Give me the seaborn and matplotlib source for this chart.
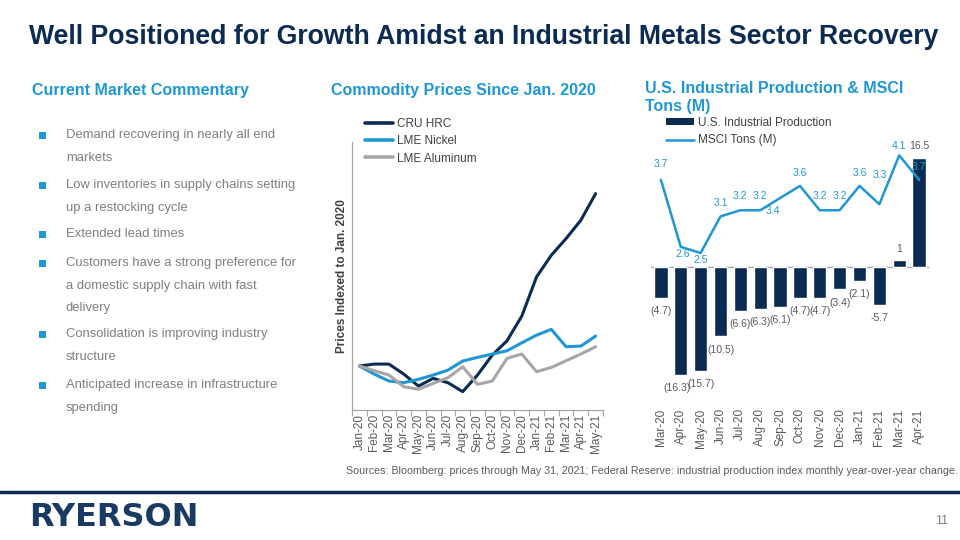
import numpy as np
import pandas as pd
import matplotlib
matplotlib.use("Agg")
import matplotlib.pyplot as plt
import seaborn as sns
from matplotlib.patches import Rectangle, Patch
from matplotlib.lines import Line2D

# ---------------- data ----------------
months_left = ["Jan-20", "Feb-20", "Mar-20", "Apr-20", "May-20", "Jun-20", "Jul-20",
               "Aug-20", "Sep-20", "Oct-20", "Nov-20", "Dec-20", "Jan-21", "Feb-21",
               "Mar-21", "Apr-21", "May-21"]
cru_hrc = [100.0, 102.0, 102.0, 91.9, 79.7, 87.5, 83.1, 74.0, 90.9, 111.1, 125.7,
           150.7, 190.5, 212.5, 229.4, 248.0, 275.0]
lme_nickel = [100.0, 91.9, 84.8, 83.1, 86.5, 90.9, 95.9, 105.1, 108.8, 112.2, 115.5,
              123.6, 131.4, 137.2, 119.6, 120.3, 130.4]
lme_aluminum = [100.0, 95.3, 90.9, 79.1, 76.4, 82.4, 88.2, 99.3, 81.4, 84.8, 107.8,
                112.2, 94.3, 98.6, 105.4, 112.2, 119.6]
series_names = ["CRU HRC", "LME Nickel", "LME Aluminum"]

months_right = ["Mar-20", "Apr-20", "May-20", "Jun-20", "Jul-20", "Aug-20", "Sep-20",
                "Oct-20", "Nov-20", "Dec-20", "Jan-21", "Feb-21", "Mar-21", "Apr-21"]
ind_prod = [-4.7, -16.3, -15.7, -10.5, -6.6, -6.3, -6.1, -4.7, -4.7, -3.4, -2.1, -5.7, 1.0, 16.5]
ind_prod_labels = ["(4.7)", "(16.3)", "(15.7)", "(10.5)", "(6.6)", "(6.3)", "(6.1)",
                   "(4.7)", "(4.7)", "(3.4)", "(2.1)", "-5.7", "1", "16.5"]
msci_tons = [3.7, 2.6, 2.5, 3.1, 3.2, 3.2, 3.4, 3.6, 3.2, 3.2, 3.6, 3.3, 4.1, 3.7]

bullets = [
    ["Demand recovering in nearly all end", "markets"],
    ["Low inventories in supply chains setting", "up a restocking cycle"],
    ["Extended lead times"],
    ["Customers have a strong preference for", "a domestic supply chain with fast", "delivery"],
    ["Consolidation is improving industry", "structure"],
    ["Anticipated increase in infrastructure", "spending"],
]

# ---------------- styles ----------------
NAVY = "#0C2B52"
BLUE = "#1E97D4"
GRAY = "#A6A6A6"
TXT = "#595959"
BTXT = "#7F7F7F"

sns.set_style("white")
plt.rcParams["font.family"] = ["Liberation Sans", "DejaVu Sans"]

W, H = 960, 540
fig = plt.figure(figsize=(9.6, 5.4), dpi=100)


def fx(px):
    return px / W


def fy(py):
    return 1 - py / H


# ---------------- header text ----------------
fig.text(fx(29), fy(37), "Well Positioned for Growth Amidst an Industrial Metals Sector Recovery",
         fontsize=19.2, fontweight="bold", color=NAVY, va="center", ha="left")
fig.text(fx(32), fy(91), "Current Market Commentary", fontsize=11.5, fontweight="bold",
         color=BLUE, va="center")
fig.text(fx(331), fy(91), "Commodity Prices Since Jan. 2020", fontsize=11.5, fontweight="bold",
         color=BLUE, va="center")
fig.text(fx(645), fy(89), "U.S. Industrial Production & MSCI", fontsize=11.5, fontweight="bold",
         color=BLUE, va="center")
fig.text(fx(645), fy(107), "Tons (M)", fontsize=11.5, fontweight="bold", color=BLUE, va="center")

# bullets
bullet_y = [135, 185, 234, 263, 334, 385]
for lines, y0 in zip(bullets, bullet_y):
    fig.add_artist(Rectangle((fx(39), fy(y0 + 3.5)), 7 / W, 7 / H, transform=fig.transFigure,
                             facecolor=BLUE, edgecolor="none"))
    for j, line in enumerate(lines):
        fig.text(fx(66), fy(y0 + j * 22.5), line, fontsize=9.4, color=BTXT, va="center")

# ---------------- left chart ----------------
axL = fig.add_axes([fx(352), fy(410), (603 - 352) / W, (410 - 142) / H])
x_idx = np.arange(len(months_left))
dfL = pd.DataFrame({
    "x": np.concatenate([x_idx] * 3),
    "value": cru_hrc + lme_nickel + lme_aluminum,
    "series": np.repeat(series_names, len(months_left)),
})
sns.lineplot(data=dfL, x="x", y="value", hue="series", hue_order=series_names,
             palette=[NAVY, BLUE, GRAY], linewidth=2.2, ax=axL, legend=False)
axL.set_xlim(-0.5, len(months_left) - 0.5)
axL.set_ylim(55.4, 327.4)
axL.set_yticks([])
axL.set_xticks(x_idx)
axL.set_xticklabels(months_left, rotation=90, fontsize=8.5, color=TXT)
axL.set_xticks(np.arange(-0.5, len(months_left)), minor=True)
axL.tick_params(axis="x", which="major", length=0, pad=3)
axL.tick_params(axis="x", which="minor", length=4, width=0.8, color=GRAY, direction="out",
                bottom=True)
axL.set_xlabel("")
axL.set_ylabel("Prices Indexed to Jan. 2020", fontsize=8.5, fontweight="bold", color="#404040")
axL.yaxis.set_label_coords(-0.015, 0.5)
for s in ["top", "right"]:
    axL.spines[s].set_visible(False)
for s in ["left", "bottom"]:
    axL.spines[s].set_color(GRAY)
    axL.spines[s].set_linewidth(0.9)

hL = [Line2D([], [], color=c, lw=2.6) for c in [NAVY, BLUE, GRAY]]
fig.legend(hL, series_names, loc="upper left", bbox_to_anchor=(fx(365), fy(118)),
           frameon=False, fontsize=8.5, handlelength=2.4, handletextpad=0.3,
           labelspacing=0.45, borderpad=0, borderaxespad=0, labelcolor="#404040")

# ---------------- right chart ----------------
axR = fig.add_axes([fx(651), fy(400), (929 - 651) / W, (400 - 145) / H])
dfR = pd.DataFrame({"month": months_right, "ip": ind_prod})
sns.barplot(data=dfR, x="month", y="ip", color=NAVY, saturation=1, width=0.67, ax=axR)
axR.set_ylim(-20.15, 18.5)
axR.set_xlim(-0.5, len(months_right) - 0.5)
axR.axhline(0, color=GRAY, lw=1.0, zorder=0.5)
axR.set_yticks([])
axR.set_xlabel("")
axR.set_ylabel("")
axR.tick_params(axis="x", length=0, pad=6, labelsize=8.5, labelcolor=TXT)
plt.setp(axR.get_xticklabels(), rotation=90)
sns.despine(ax=axR, left=True, bottom=True)

for i, (v, lab) in enumerate(zip(ind_prod, ind_prod_labels)):
    dy = 8.5 if v > 0 else -9.5
    dx = -3 if i == 1 else 0
    axR.annotate(lab, (i, v), xytext=(dx, dy), textcoords="offset points",
                 ha="center", va="center", fontsize=7.5, color=TXT)

axT = axR.twinx()
sns.lineplot(x=np.arange(len(months_right)), y=msci_tons, color=BLUE, linewidth=1.8, ax=axT)
axT.set_ylim(0.09, 4.27)
axT.set_yticks([])
sns.despine(ax=axT, left=True, bottom=True, right=True)

msci_label_off = [(0, 11), (1.5, -5), (0, -5), (0, 9.5), (0, 10), (0, 10), (-5, -9.5),
                  (0, 9.5), (0, 10), (0, 10), (0, 9.5), (0, 21), (0, 7), (0, 9.5)]
for i, (v, (dx, dy)) in enumerate(zip(msci_tons, msci_label_off)):
    axT.annotate(f"{v:.1f}", (i, v), xytext=(dx, dy), textcoords="offset points",
                 ha="center", va="center", fontsize=7.5, color=BLUE)

hR = [Patch(facecolor=NAVY, edgecolor="none"), Line2D([], [], color=BLUE, lw=1.8)]
fig.legend(hR, ["U.S. Industrial Production", "MSCI Tons (M)"], loc="upper left",
           bbox_to_anchor=(fx(666), fy(117)), frameon=False, fontsize=8.5,
           handlelength=2.4, handleheight=0.5, handletextpad=0.3, labelspacing=0.45,
           borderpad=0, borderaxespad=0, labelcolor="#404040")

# ---------------- footer ----------------
fig.text(fx(958), fy(471), "Sources: Bloomberg: prices through May 31, 2021; Federal Reserve: "
         "industrial production index monthly year-over-year change.",
         fontsize=7.7, color=TXT, ha="right", va="center")
fig.add_artist(Line2D([0, 1], [fy(492), fy(492)], transform=fig.transFigure, color=NAVY, lw=2.5))
fig.text(fx(29), fy(517), "RYERSON", fontsize=23, fontweight="bold", color="#1B3A63",
         family="DejaVu Sans", va="center", ha="left")
fig.text(fx(942), fy(521), "11", fontsize=9, color=BTXT, va="center", ha="center")

fig.savefig("out.png", dpi=100)
